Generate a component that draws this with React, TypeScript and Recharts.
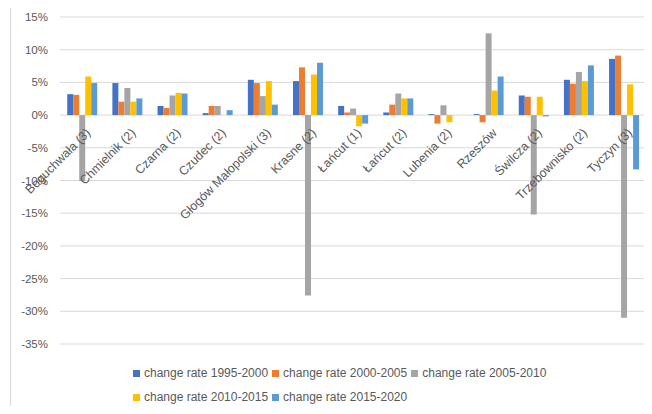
import React from 'react';
import {
  ComposedChart,
  Bar,
  Line,
  LabelList,
  XAxis,
  YAxis,
  CartesianGrid,
  Legend,
} from 'recharts';

// municipalities (x categories)
const categories = [
  'Boguchwała (3)',
  'Chmielnik (2)',
  'Czarna (2)',
  'Czudec (2)',
  'Głogów Małopolski (3)',
  'Krasne (2)',
  'Łańcut (1)',
  'Łańcut (2)',
  'Lubenia (2)',
  'Rzeszów',
  'Świlcza (2)',
  'Trzebownisko (2)',
  'Tyczyn (3)',
];

// change rates in %
const rate1995 = [3.2, 4.9, 1.4, 0.3, 5.4, 5.2, 1.4, 0.4, 0.15, 0.15, 3.0, 5.4, 8.6];
const rate2000 = [3.1, 2.05, 1.1, 1.4, 4.9, 7.3, 0.4, 1.6, -1.3, -1.1, 2.8, 4.8, 9.1];
const rate2005 = [-10.1, 4.15, 3.0, 1.4, 2.9, -27.6, 1.0, 3.3, 1.5, 12.5, -15.2, 6.6, -31.0];
const rate2010 = [5.9, 2.05, 3.4, 0, 5.2, 6.2, -1.7, 2.55, -1.1, 3.75, 2.8, 5.2, 4.7];
const rate2015 = [4.9, 2.55, 3.3, 0.75, 1.6, 8.0, -1.3, 2.55, 0, 5.9, -0.2, 7.6, -8.3];

const yTicks = [-35, -30, -25, -20, -15, -10, -5, 0, 5, 10, 15];

const series = [
  { key: 'change rate 1995-2000', values: rate1995, color: '#4472C4' },
  { key: 'change rate 2000-2005', values: rate2000, color: '#ED7D31' },
  { key: 'change rate 2005-2010', values: rate2005, color: '#A5A5A5' },
  { key: 'change rate 2010-2015', values: rate2010, color: '#FFC000' },
  { key: 'change rate 2015-2020', values: rate2015, color: '#5B9BD5' },
];

const data = categories.map((name, i) => {
  const row: Record<string, string | number> = { name, base: 0 };
  series.forEach((s) => {
    row[s.key] = s.values[i];
  });
  return row;
});

// category names sit on the zero line, rotated like Excel does
const CategoryLabel = (props: any) => {
  const { x, y, value } = props;
  return (
    <text
      transform={`translate(${x + 2},${y + 12}) rotate(-45)`}
      textAnchor="end"
      dy="0.75em"
      fontSize={12.4}
      fill="#595959"
    >
      {value}
    </text>
  );
};

export default function App() {
  return (
    <div
      style={{
        position: 'relative',
        margin: -8,
        width: 652,
        height: 414,
        fontFamily: '"Liberation Sans", Arial, sans-serif',
      }}
    >
      <style>{`.recharts-legend-item{margin-right:4px !important}`}</style>
      <div
        style={{
          position: 'absolute',
          left: 10,
          top: 0,
          width: 1,
          height: 414,
          background: '#D9D9D9',
        }}
      />
      <ComposedChart
        width={652}
        height={414}
        data={data}
        margin={{ top: 17, right: 5, left: 0, bottom: 5 }}
        barCategoryGap="16%"
        barGap={0}
      >
        <CartesianGrid vertical={false} stroke="#D9D9D9" />
        <XAxis dataKey="name" hide />
        <YAxis
          width={60}
          domain={[-35, 15]}
          ticks={yTicks}
          axisLine={false}
          tickLine={false}
          tickMargin={6}
          tickFormatter={(v: number) => `${v}%`}
          tick={{ fill: '#595959', fontSize: 11.5 }}
        />
        <Legend
          align="left"
          verticalAlign="bottom"
          width={450}
          iconType="square"
          iconSize={7}
          wrapperStyle={{ left: 133, paddingTop: 17, lineHeight: '24px', fontSize: 12 }}
          formatter={(value: string) => <span style={{ color: '#595959' }}>{value}</span>}
        />
        {series.map((s) => (
          <Bar key={s.key} dataKey={s.key} fill={s.color} isAnimationActive={false} />
        ))}
        <Line
          dataKey="base"
          stroke="none"
          dot={false}
          activeDot={false}
          legendType="none"
          isAnimationActive={false}
        >
          <LabelList dataKey="name" content={CategoryLabel} />
        </Line>
      </ComposedChart>
    </div>
  );
}
